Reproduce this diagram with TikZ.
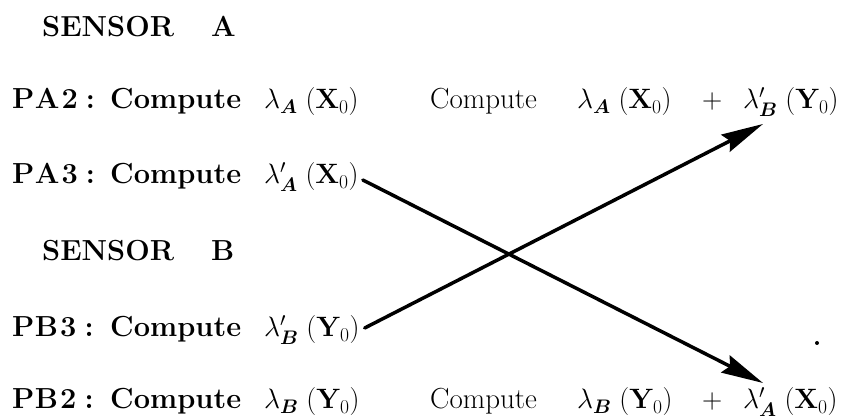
\RequirePackage{fix-cm}
\documentclass[tikz,border=0pt]{standalone}
\usepackage{amsmath,amsbsy}
\usetikzlibrary{arrows.meta}
\newcommand{\tXA}{$\lambda_{\boldsymbol{A}}\;(\mathbf{X}_0)$}
\newcommand{\tXAp}{$\lambda^{\prime}_{\boldsymbol{A}}\;(\mathbf{X}_0)$}
\newcommand{\tYB}{$\lambda_{\boldsymbol{B}}\;(\mathbf{Y}_0)$}
\newcommand{\tYBp}{$\lambda^{\prime}_{\boldsymbol{B}}\;(\mathbf{Y}_0)$}
\newcommand{\lbl}[2]{\textbf{P\kern0.5pt #1\kern2pt #2\kern8pt :}}
\begin{document}
\begin{tikzpicture}[x=1pt,y=1pt,
  txt/.style={anchor=base west,inner sep=0pt,font=\fontsize{29}{32}\selectfont},
  mth/.style={anchor=base west,inner sep=0pt,font=\fontsize{28}{32}\selectfont},
  head/.style={anchor=base west,inner sep=0pt,font=\fontsize{29}{32}\selectfont\bfseries},
  conn/.style={line width=3.5pt,line cap=round,-{Stealth[length=42pt,width=19pt,inset=5pt]}}]
\useasboundingbox (0,0) rectangle (843,420);
% headings
\node[head] (sensA) at (42,383) {SENSOR};
\node[head] (sensAl) at (211,383) {A};
\node[head] (sensB) at (42,159) {SENSOR};
\node[head] (sensBl) at (211,159) {B};
% left rows
\node[txt] (pa2) at (12,311) {\lbl{A}{2}};
\node[txt] (pa2c) at (110,311) {\textbf{Compute}};
\node[mth] (pa2t) at (264,311) {\tXA};
\node[txt] (pa3) at (12,236) {\lbl{A}{3}};
\node[txt] (pa3c) at (110,236) {\textbf{Compute}};
\node[mth] (pa3t) at (264,236) {\tXAp};
\node[txt] (pb3) at (12,83) {\lbl{B}{3}};
\node[txt] (pb3c) at (110,83) {\textbf{Compute}};
\node[mth] (pb3t) at (264,83) {\tYBp};
\node[txt] (pb2) at (12,11) {\lbl{B}{2}};
\node[txt] (pb2c) at (110,11) {\textbf{Compute}};
\node[mth] (pb2t) at (264,11) {\tYB};
% right rows
\node[txt] (ra) at (430,311) {Compute};
\node[mth] (ra1) at (577,311) {\tXA};
\node[mth] (rap) at (702,311) {$+$};
\node[mth] (ra2) at (743,311) {\tYBp};
\node[txt] (rb) at (430,11) {Compute};
\node[mth] (rb1) at (577,11) {\tYB};
\node[mth] (rbp) at (702,11) {$+$};
\node[mth] (rb2) at (743,11) {\tXAp};
% connectors
\draw[conn] ([shift={(4pt,4pt)}]pa3t.base east) -- ([shift={(20pt,26pt)}]rb2.base west);
\draw[conn] ([shift={(5pt,9pt)}]pb3t.base east) -- ([shift={(20pt,-15pt)}]ra2.base west);
% stray dot
\fill (817,77) circle (2);
\end{tikzpicture}
\end{document}
